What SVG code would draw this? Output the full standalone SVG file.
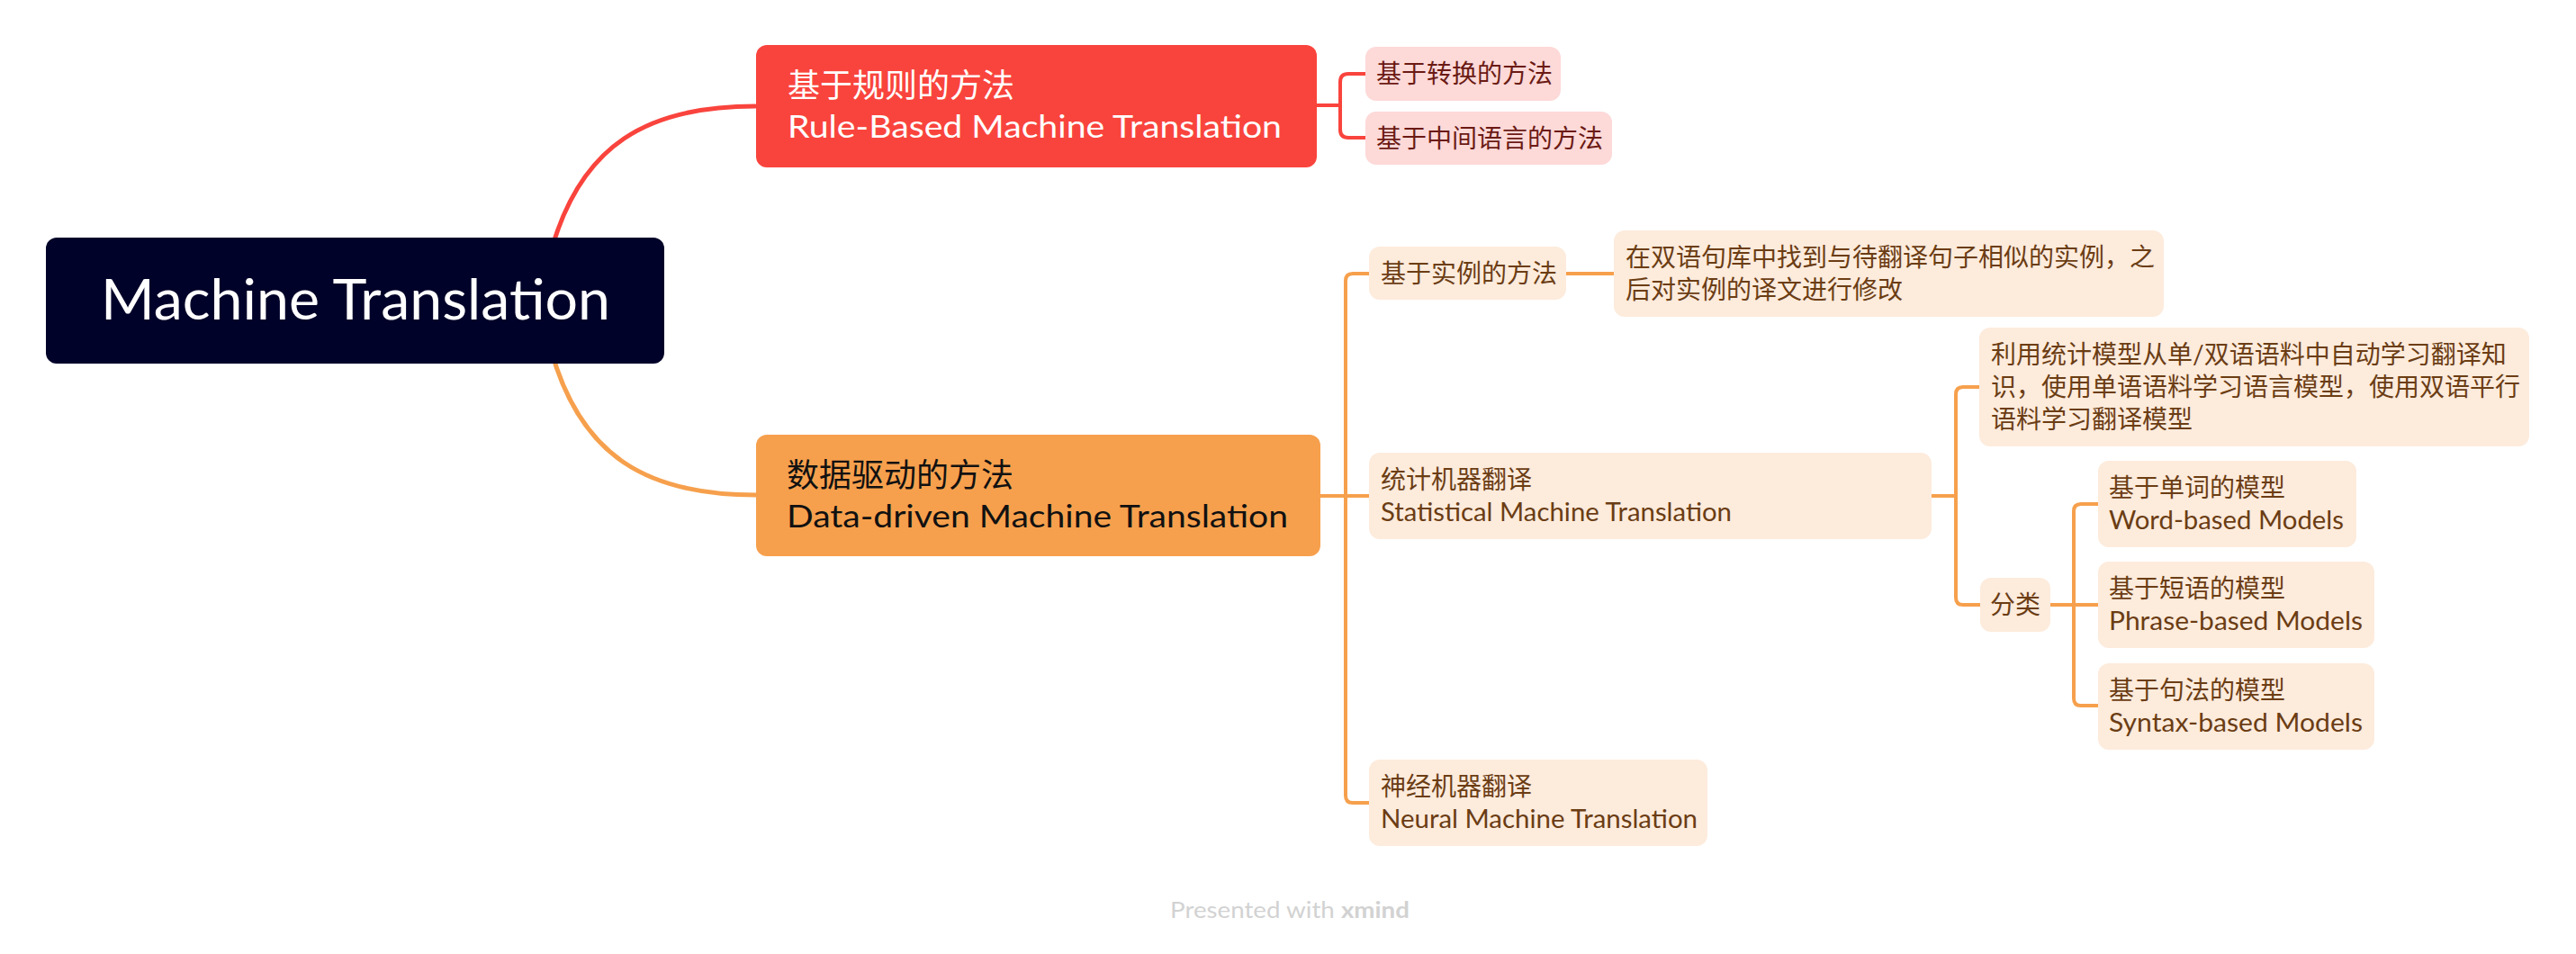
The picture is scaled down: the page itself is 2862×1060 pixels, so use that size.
<svg xmlns="http://www.w3.org/2000/svg" width="2862" height="1060" viewBox="0 0 2862 1060">
  <style>
    .t { font-family: Lato, "Noto Sans CJK SC", sans-serif; }
    .root { fill: #000229; }
    .main-red { fill: #F9443D; }
    .main-org { fill: #F6A04D; }
    .sub-red { fill: #FDD9D8; }
    .sub-org { fill: #FDEBDC; }
    .tw { fill: #FFFFFF; }
    .tk { fill: #111111; }
    .tr { fill: #6B1A14; font-size: 28px; }
    .to { fill: #6B3D14; font-size: 28px; }
    .cr { fill: none; stroke: #F9443D; stroke-linecap: round; }
    .co { fill: none; stroke: #F6A04D; stroke-linecap: round; }
  </style>
  <rect width="2862" height="1060" fill="#FFFFFF"/>

  <g id="connectors">
    <path class="cr" stroke-width="5" d="M612 280 C 645 160, 720 118, 839 118"/>
    <path class="co" stroke-width="5" d="M612 388 C 645 508, 720 550, 840 550"/>
    <path class="cr" stroke-width="4" d="M1463 117 H1489 M1517 82 H1498 Q1489 82 1489 91 V144 Q1489 153 1498 153 H1517"/>
    <path class="co" stroke-width="4" d="M1467 551 H1521 M1521 304 H1503 Q1495 304 1495 312 V884 Q1495 892 1503 892 H1521"/>
    <path class="co" stroke-width="4" d="M1740 304 H1793"/>
    <path class="co" stroke-width="4" d="M2146 551 H2173 M2200 430 H2181 Q2173 430 2173 438 V664 Q2173 672 2181 672 H2200"/>
    <path class="co" stroke-width="4" d="M2278 672 H2331 M2331 560 H2312 Q2304 560 2304 568 V776 Q2304 784 2312 784 H2331"/>
  </g>

  <g id="root">
    <rect class="root" x="51" y="264" width="687" height="140" rx="12"/>
    <text class="t tw" x="112" y="355" font-size="61" textLength="566" lengthAdjust="spacingAndGlyphs">Machine Translation</text>
  </g>

  <g id="rule-based">
    <rect class="main-red" x="840" y="50" width="623" height="136" rx="12"/>
    <text class="t tw" x="875" y="108" font-size="36">基于规则的方法</text>
    <text class="t tw" x="875" y="153" font-size="35" textLength="549" lengthAdjust="spacingAndGlyphs">Rule-Based Machine Translation</text>
  </g>

  <g id="transfer">
    <rect class="sub-red" x="1517" y="52" width="217" height="60" rx="12"/>
    <text class="t tr" x="1529" y="92">基于转换的方法</text>
  </g>

  <g id="interlingua">
    <rect class="sub-red" x="1517" y="124" width="274" height="59" rx="12"/>
    <text class="t tr" x="1529" y="164">基于中间语言的方法</text>
  </g>

  <g id="data-driven">
    <rect class="main-org" x="840" y="483" width="627" height="135" rx="12"/>
    <text class="t tk" x="874" y="541" font-size="36">数据驱动的方法</text>
    <text class="t tk" x="874" y="586" font-size="35" textLength="557" lengthAdjust="spacingAndGlyphs">Data-driven Machine Translation</text>
  </g>

  <g id="example-based">
    <rect class="sub-org" x="1521" y="274" width="219" height="59" rx="12"/>
    <text class="t to" x="1534" y="314">基于实例的方法</text>
  </g>

  <g id="example-desc">
    <rect class="sub-org" x="1793" y="256" width="611" height="96" rx="12"/>
    <text class="t to" x="1806" y="296">在双语句库中找到与待翻译句子相似的实例，之</text>
    <text class="t to" x="1806" y="332">后对实例的译文进行修改</text>
  </g>

  <g id="smt">
    <rect class="sub-org" x="1521" y="503" width="625" height="96" rx="12"/>
    <text class="t to" x="1534" y="543">统计机器翻译</text>
    <text class="t to" x="1534" y="579" textLength="390" lengthAdjust="spacingAndGlyphs">Statistical Machine Translation</text>
  </g>

  <g id="smt-desc">
    <rect class="sub-org" x="2199" y="364" width="611" height="132" rx="12"/>
    <text class="t to" x="2212" y="404">利用统计模型从单/双语语料中自动学习翻译知</text>
    <text class="t to" x="2212" y="440">识，使用单语语料学习语言模型，使用双语平行</text>
    <text class="t to" x="2212" y="476">语料学习翻译模型</text>
  </g>

  <g id="classification">
    <rect class="sub-org" x="2200" y="642" width="78" height="60" rx="12"/>
    <text class="t to" x="2211" y="682">分类</text>
  </g>

  <g id="word-based">
    <rect class="sub-org" x="2331" y="512" width="287" height="96" rx="12"/>
    <text class="t to" x="2343" y="552">基于单词的模型</text>
    <text class="t to" x="2343" y="588" textLength="261" lengthAdjust="spacingAndGlyphs">Word-based Models</text>
  </g>

  <g id="phrase-based">
    <rect class="sub-org" x="2331" y="624" width="307" height="96" rx="12"/>
    <text class="t to" x="2343" y="664">基于短语的模型</text>
    <text class="t to" x="2343" y="700" textLength="282" lengthAdjust="spacingAndGlyphs">Phrase-based Models</text>
  </g>

  <g id="syntax-based">
    <rect class="sub-org" x="2331" y="737" width="307" height="96" rx="12"/>
    <text class="t to" x="2343" y="777">基于句法的模型</text>
    <text class="t to" x="2343" y="813" textLength="282" lengthAdjust="spacingAndGlyphs">Syntax-based Models</text>
  </g>

  <g id="nmt">
    <rect class="sub-org" x="1521" y="844" width="376" height="96" rx="12"/>
    <text class="t to" x="1534" y="884">神经机器翻译</text>
    <text class="t to" x="1534" y="920" textLength="352" lengthAdjust="spacingAndGlyphs">Neural Machine Translation</text>
  </g>

  <text class="t" x="1300" y="1020" font-size="25" fill="#D2D2D2" textLength="266" lengthAdjust="spacingAndGlyphs">Presented with <tspan font-weight="bold">xmind</tspan></text>
</svg>
